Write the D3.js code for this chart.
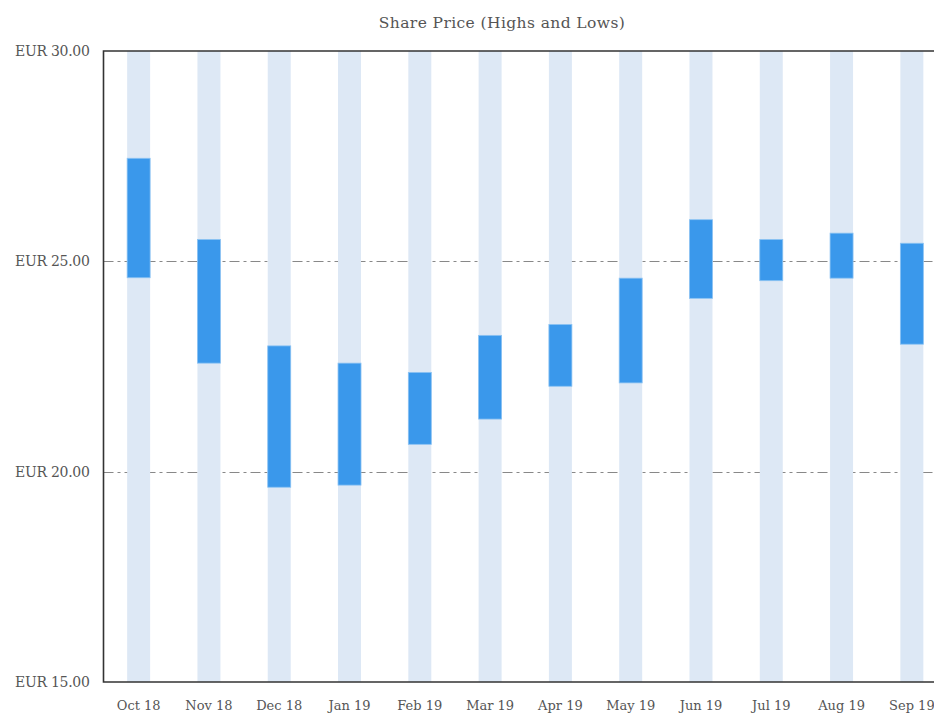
<!DOCTYPE html>
<html><head><meta charset="utf-8">
<script src="https://cdn.jsdelivr.net/npm/d3@7"></script>
<style>
body{margin:0;background:#fff;}
svg{display:block;}
text{font-family:"DejaVu Serif",serif;fill:#555;}
</style></head>
<body>
<svg id="c" width="934" height="715"></svg>
<script>
const months = ["Oct 18","Nov 18","Dec 18","Jan 19","Feb 19","Mar 19","Apr 19","May 19","Jun 19","Jul 19","Aug 19","Sep 19"];
const highs = [27.45,25.52,22.99,22.58,22.36,23.24,23.50,24.60,25.99,25.52,25.67,25.43];
const lows  = [24.61,22.58,19.63,19.68,20.65,21.25,22.03,22.11,24.12,24.54,24.60,23.03];
const yTicks = [15,20,25,30];
const gridValues = [20,25];
const title = "Share Price (Highs and Lows)";

const svg = d3.select("#c");
const L = 103.5, T = 51, B = 682, R = 947;
const x = d3.scaleBand().domain(months).range([L, R]).paddingInner(0.673).paddingOuter(0.3365);
const y = d3.scaleLinear().domain([15,30]).range([B, T]);

svg.append("text").attr("x", 502).attr("y", 28).attr("text-anchor","middle")
  .style("font-size","15.5px").attr("letter-spacing","0.4px").text(title);

// grid
svg.append("g").selectAll("line").data(gridValues).join("line")
  .attr("x1", L).attr("x2", 934).attr("y1", d=>Math.round(y(d))+0.5).attr("y2", d=>Math.round(y(d))+0.5)
  .attr("stroke","#888").attr("stroke-width",1.2).attr("stroke-dasharray","10,4,3,4");

// background bars
svg.append("g").selectAll("rect").data(months).join("rect")
  .attr("x", d=>x(d)).attr("width", x.bandwidth()).attr("y", T).attr("height", B-T)
  .attr("fill","#dde8f5");

// range bars
svg.append("g").selectAll("rect").data(months).join("rect")
  .attr("x", d=>x(d)).attr("width", x.bandwidth())
  .attr("y", (d,i)=>y(highs[i])).attr("height", (d,i)=>y(lows[i])-y(highs[i]))
  .attr("fill","#3a98eb").attr("stroke","#8cc3f3").attr("stroke-width",0.8);

// frame
svg.append("path").attr("d", `M${R},${T}H${L}V${B}H${R}`)
  .attr("fill","none").attr("stroke","#333").attr("stroke-width",1.6);

// y axis labels
const yAxis = d3.axisLeft(y).tickValues(yTicks).tickSize(0).tickPadding(14).tickFormat(d=>"EUR "+d3.format(".2f")(d));
const gy = svg.append("g").attr("transform",`translate(${L},0)`).call(yAxis);
gy.select(".domain").remove();
gy.selectAll("text").style("font-size","14px").style("font-family","DejaVu Serif, serif").attr("fill","#555").attr("letter-spacing","-0.3px");

// x axis labels
const xAxis = d3.axisBottom(x).tickSize(0).tickPadding(19);
const gx = svg.append("g").attr("transform",`translate(0,${B})`).call(xAxis);
gx.select(".domain").remove();
gx.selectAll("text").style("font-size","13px").style("font-family","DejaVu Serif, serif").attr("fill","#555");
</script>
</body></html>
